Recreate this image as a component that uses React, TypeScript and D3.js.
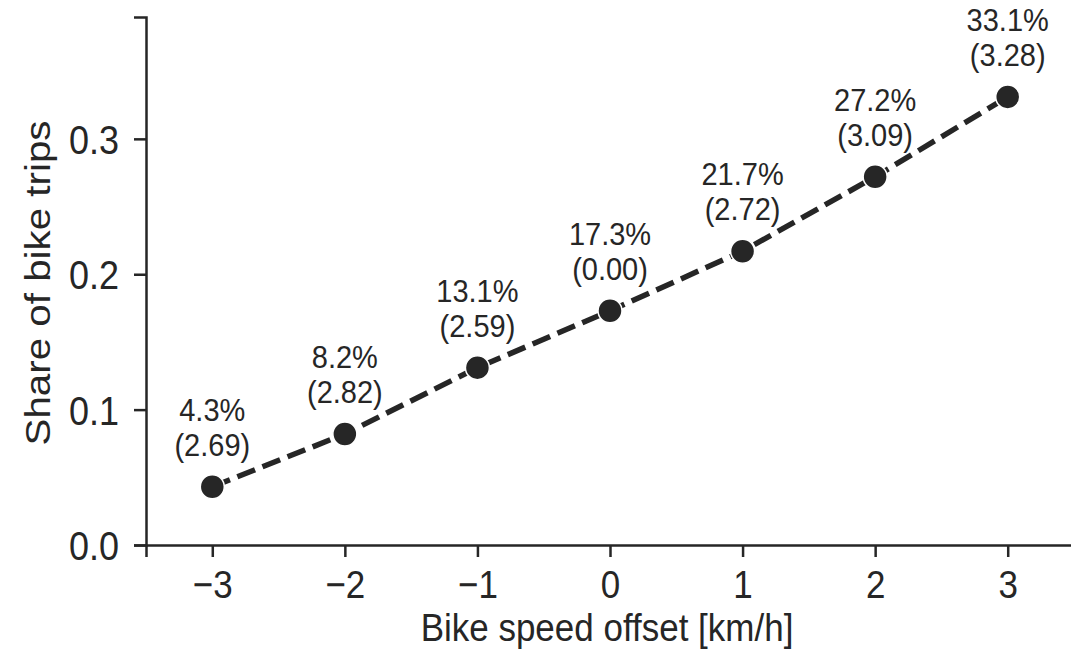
import React, { useEffect, useRef } from "react";
import * as d3 from "d3";

// speed offsets and shares
const offsets = [-3, -2, -1, 0, 1, 2, 3];
const shares = [0.043, 0.082, 0.131, 0.173, 0.217, 0.272, 0.331];
const pctLabels = ["4.3%", "8.2%", "13.1%", "17.3%", "21.7%", "27.2%", "33.1%"];
const subLabels = ["(2.69)", "(2.82)", "(2.59)", "(0.00)", "(2.72)", "(3.09)", "(3.28)"];
const xTicks = [-3, -2, -1, 0, 1, 2, 3];
const yTicks = [0, 0.1, 0.2, 0.3];

const W = 1071;
const H = 652;
const ink = "#262626";
const font = "'Liberation Sans', Arial, Helvetica, sans-serif";
// the source image is a bit taller than wide, text is stretched vertically
const sy = 1.12;
const sa = 1.08;

export default function App() {
  const ref = useRef<SVGSVGElement>(null);

  useEffect(() => {
    const svg = d3.select(ref.current);
    svg.selectAll("*").remove();

    const x = d3.scaleLinear().domain([-3.5, 3.5]).range([146, 1074]);
    const y = d3.scaleLinear().domain([0, 0.39]).range([545, 17]);

    const g = svg.append("g").attr("font-family", font);

    // x axis
    const xAxis = g.append("g")
      .attr("transform", "translate(0,545)")
      .call(d3.axisBottom(x).tickValues(xTicks).tickSize(12)
        .tickFormat((d) => d3.format("d")(+d).replace("-", "\u2212")));
    xAxis.select(".domain").attr("stroke", ink).attr("stroke-width", 2.5);
    xAxis.selectAll(".tick line").attr("stroke", ink).attr("stroke-width", 2.5);
    xAxis.selectAll(".tick text")
      .attr("fill", ink).attr("font-size", 35).attr("font-family", font)
      .attr("y", 53 / sy).attr("dy", 0)
      .attr("transform", `scale(1,${sy})`);

    // y axis
    const yAxis = g.append("g")
      .attr("transform", "translate(146,0)")
      .call(d3.axisLeft(y).tickValues(yTicks).tickSize(12)
        .tickFormat(d3.format(".1f")));
    yAxis.select(".domain").attr("stroke", ink).attr("stroke-width", 2.5);
    yAxis.selectAll(".tick line").attr("stroke", ink).attr("stroke-width", 2.5);
    yAxis.selectAll(".tick text")
      .attr("fill", ink).attr("font-size", 36).attr("font-family", font)
      .attr("x", -27).attr("dy", "0.36em")
      .attr("transform", `scale(1,${sy})`)
      .attr("y", 0);

    g.append("text")
      .attr("transform", `translate(607,641) scale(1,${sy})`)
      .attr("text-anchor", "middle")
      .attr("font-size", 35).attr("fill", ink)
      .text("Bike speed offset [km/h]");

    g.append("text")
      .attr("transform", `translate(50,283) rotate(-90) scale(${sy},1)`)
      .attr("text-anchor", "middle")
      .attr("font-size", 36).attr("fill", ink)
      .text("Share of bike trips");

    const data = offsets.map((o, i) => ({ o, s: shares[i], p: pctLabels[i], q: subLabels[i] }));

    const line = d3.line<any>().x((d) => x(d.o)).y((d) => y(d.s));
    g.append("path")
      .datum(data)
      .attr("fill", "none")
      .attr("stroke", ink)
      .attr("stroke-width", 5.5)
      .attr("stroke-dasharray", "19,8")
      .attr("d", line);

    g.selectAll("circle.pt")
      .data(data)
      .enter().append("circle")
      .attr("class", "pt")
      .attr("cx", (d) => x(d.o))
      .attr("cy", (d) => y(d.s))
      .attr("r", 12)
      .attr("fill", ink)
      .attr("stroke", "#ffffff")
      .attr("stroke-width", 1.5);

    const lab = g.selectAll("g.lab").data(data).enter().append("g").attr("class", "lab");
    lab.append("text")
      .attr("transform", (d) => `translate(${x(d.o)},${y(d.s) - 66}) scale(1,${sa})`)
      .attr("text-anchor", "middle").attr("font-size", 29).attr("fill", ink)
      .text((d) => d.p);
    lab.append("text")
      .attr("transform", (d) => `translate(${x(d.o)},${y(d.s) - 31}) scale(1,${sa})`)
      .attr("text-anchor", "middle").attr("font-size", 29).attr("fill", ink)
      .text((d) => d.q);
  }, []);

  return (
    <div style={{ position: "absolute", left: 0, top: 0 }}>
      <svg ref={ref} width={W} height={H} style={{ display: "block", background: "#fff" }}></svg>
    </div>
  );
}
